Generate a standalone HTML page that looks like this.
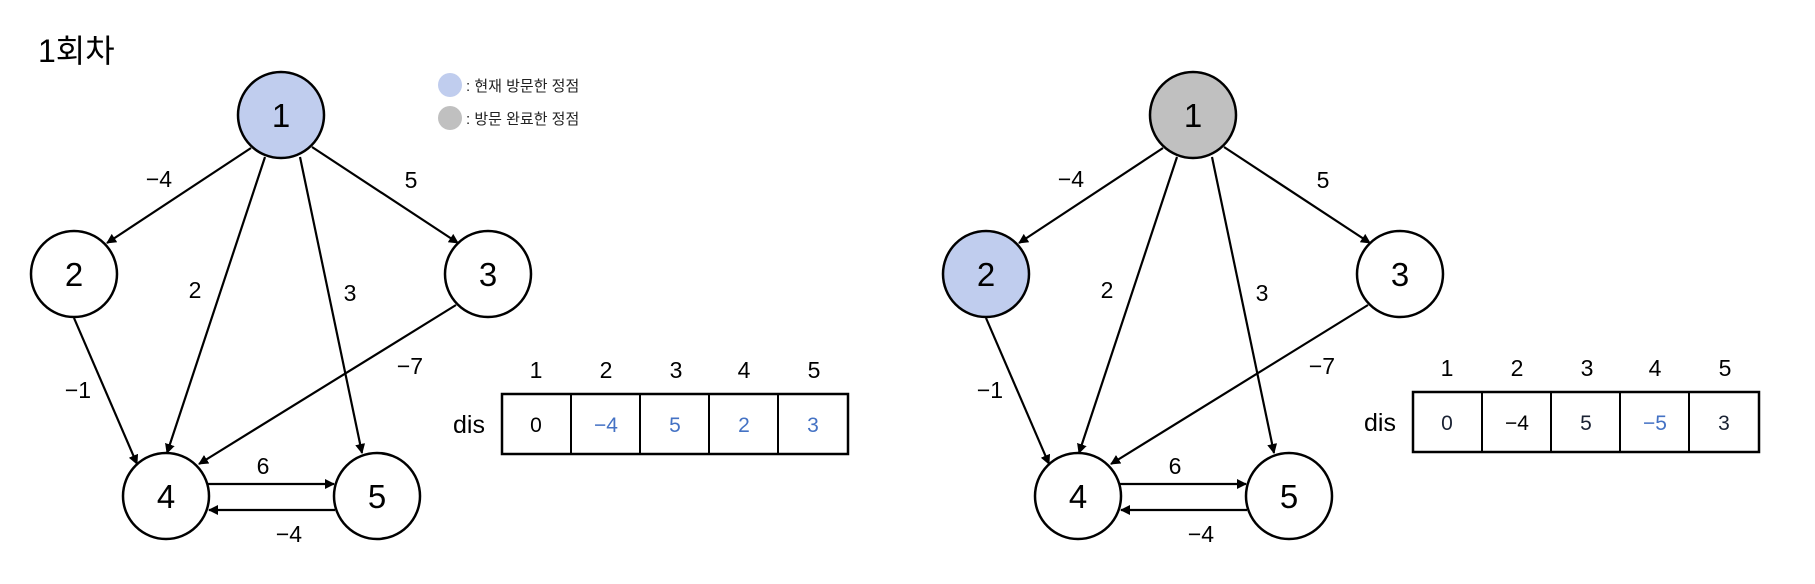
<!DOCTYPE html>
<html><head><meta charset="utf-8"><style>
html,body{margin:0;padding:0;background:#fff;width:1815px;height:584px;overflow:hidden}
svg text{font-family:"Liberation Sans","Noto Sans CJK KR",sans-serif}
</style></head><body>
<svg width="1815" height="584" viewBox="0 0 1815 584" xmlns="http://www.w3.org/2000/svg">
<defs>
<marker id="a" markerWidth="10" markerHeight="10" refX="9" refY="5" orient="auto" markerUnits="userSpaceOnUse">
<path d="M0,0 L10,5 L0,10 z" fill="#000"/></marker>
</defs>
<text x="38" y="62" font-size="32" fill="#000">1회차</text>
<circle cx="450" cy="85" r="12" fill="#c0cdee"/>
<text x="466" y="91" font-size="15" fill="#222">: 현재 방문한 정점</text>
<circle cx="450" cy="118" r="12" fill="#c0c0c0"/>
<text x="466" y="124" font-size="15" fill="#222">: 방문 완료한 정점</text>

<g id="p1">
<g stroke="#000" stroke-width="2.2" fill="none" marker-end="url(#a)">
<line x1="251" y1="148" x2="107" y2="243"/>
<line x1="312" y1="147" x2="458" y2="243"/>
<line x1="265" y1="157" x2="167" y2="453"/>
<line x1="300" y1="157" x2="362" y2="453"/>
<line x1="74" y1="318" x2="137" y2="464"/>
<line x1="456" y1="305" x2="199" y2="464"/>
<line x1="208" y1="484" x2="334" y2="484"/>
<line x1="335" y1="510" x2="209" y2="510"/>
</g>
<g stroke="#000" stroke-width="2.5">
<circle cx="281" cy="115" r="43" fill="#c0cdee"/>
<circle cx="74" cy="274" r="43" fill="#fff"/>
<circle cx="488" cy="274" r="43" fill="#fff"/>
<circle cx="166" cy="496" r="43" fill="#fff"/>
<circle cx="377" cy="496" r="43" fill="#fff"/>
</g>
<g font-size="33" text-anchor="middle" fill="#000">
<text x="281" y="127">1</text><text x="74" y="286">2</text><text x="488" y="286">3</text><text x="166" y="508">4</text><text x="377" y="508">5</text>
</g>
<g font-size="23" text-anchor="middle" fill="#000">
<text x="159" y="187">−4</text><text x="411" y="188">5</text><text x="195" y="298">2</text><text x="350" y="301">3</text>
<text x="78" y="398">−1</text><text x="410" y="374">−7</text><text x="263" y="474">6</text><text x="289" y="542">−4</text>
</g>
</g>

<g transform="translate(912,0)">
<g stroke="#000" stroke-width="2.2" fill="none" marker-end="url(#a)">
<line x1="251" y1="148" x2="107" y2="243"/>
<line x1="312" y1="147" x2="458" y2="243"/>
<line x1="265" y1="157" x2="167" y2="453"/>
<line x1="300" y1="157" x2="362" y2="453"/>
<line x1="74" y1="318" x2="137" y2="464"/>
<line x1="456" y1="305" x2="199" y2="464"/>
<line x1="208" y1="484" x2="334" y2="484"/>
<line x1="335" y1="510" x2="209" y2="510"/>
</g>
<g stroke="#000" stroke-width="2.5">
<circle cx="281" cy="115" r="43" fill="#c0c0c0"/>
<circle cx="74" cy="274" r="43" fill="#c0cdee"/>
<circle cx="488" cy="274" r="43" fill="#fff"/>
<circle cx="166" cy="496" r="43" fill="#fff"/>
<circle cx="377" cy="496" r="43" fill="#fff"/>
</g>
<g font-size="33" text-anchor="middle" fill="#000">
<text x="281" y="127">1</text><text x="74" y="286">2</text><text x="488" y="286">3</text><text x="166" y="508">4</text><text x="377" y="508">5</text>
</g>
<g font-size="23" text-anchor="middle" fill="#000">
<text x="159" y="187">−4</text><text x="411" y="188">5</text><text x="195" y="298">2</text><text x="350" y="301">3</text>
<text x="78" y="398">−1</text><text x="410" y="374">−7</text><text x="263" y="474">6</text><text x="289" y="542">−4</text>
</g>
</g>

<!-- table 1 -->
<g font-size="23" text-anchor="middle">
<g fill="#000"><text x="536" y="378">1</text><text x="606" y="378">2</text><text x="676" y="378">3</text><text x="744" y="378">4</text><text x="814" y="378">5</text></g>
<text x="469" y="433" font-size="25">dis</text>
<rect x="502" y="394" width="346" height="60" fill="none" stroke="#000" stroke-width="2.5"/>
<g stroke="#000" stroke-width="2"><line x1="571" y1="394" x2="571" y2="454"/><line x1="640" y1="394" x2="640" y2="454"/><line x1="709" y1="394" x2="709" y2="454"/><line x1="778" y1="394" x2="778" y2="454"/></g>
<text x="536" y="432" fill="#000" font-size="21">0</text>
<g fill="#4472c4" font-size="21"><text x="606" y="432">−4</text><text x="675" y="432">5</text><text x="744" y="432">2</text><text x="813" y="432">3</text></g>
</g>
<!-- table 2 -->
<g font-size="23" text-anchor="middle" transform="translate(911,-2)">
<g fill="#000"><text x="536" y="378">1</text><text x="606" y="378">2</text><text x="676" y="378">3</text><text x="744" y="378">4</text><text x="814" y="378">5</text></g>
<text x="469" y="433" font-size="25">dis</text>
<rect x="502" y="394" width="346" height="60" fill="none" stroke="#000" stroke-width="2.5"/>
<g stroke="#000" stroke-width="2"><line x1="571" y1="394" x2="571" y2="454"/><line x1="640" y1="394" x2="640" y2="454"/><line x1="709" y1="394" x2="709" y2="454"/><line x1="778" y1="394" x2="778" y2="454"/></g>
<g font-size="21" fill="#1a2233"><text x="536" y="432">0</text><text x="606" y="432" fill="#000">−4</text><text x="675" y="432">5</text><text x="813" y="432">3</text></g>
<text x="744" y="432" fill="#4472c4" font-size="21">−5</text>
</g>
</svg>
</body></html>
